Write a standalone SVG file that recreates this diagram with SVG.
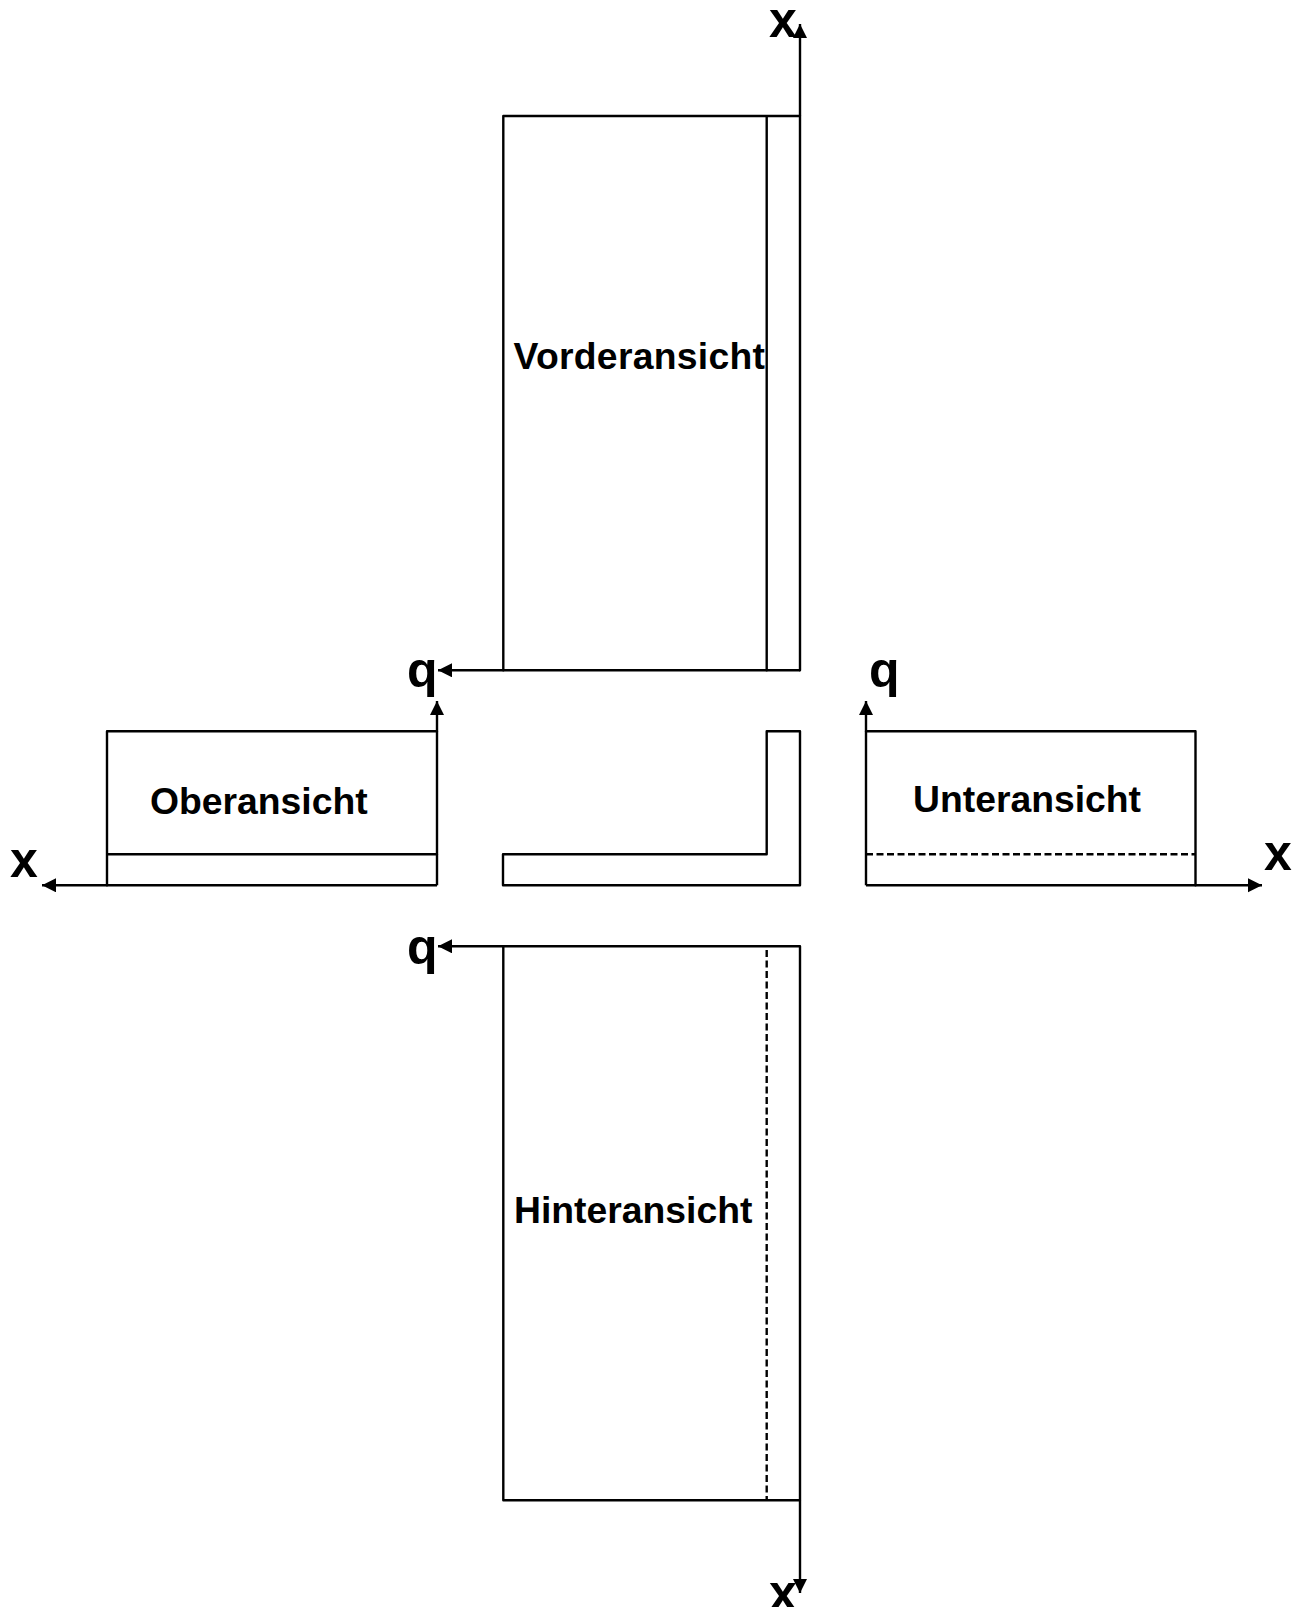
<svg xmlns="http://www.w3.org/2000/svg" width="1303" height="1607" viewBox="0 0 1303 1607">
<style>
.s{fill:none;stroke:#000;stroke-width:2.4;stroke-linejoin:round;stroke-linecap:round}
.d{stroke-dasharray:7 3.500;stroke-linecap:butt}
.a{fill:none;stroke:#000;stroke-width:2.4;marker-end:url(#ah)}
.l{font-family:"Liberation Sans",Arial,sans-serif;font-weight:700;font-size:37.3px;fill:#000}
.ax{font-family:"Liberation Sans",Arial,sans-serif;font-weight:700;font-size:50px;fill:#000}
</style>
<defs>
<marker id="ah" markerUnits="userSpaceOnUse" markerWidth="15" markerHeight="15" refX="14" refY="7" orient="auto"><path d="M0 0L14 7L0 14Z" fill="#000"/></marker>
</defs>
<rect width="1303" height="1607" fill="#fff"/>
<g id="vorderansicht">
<path class="s" d="M503.300 670.300V116H800V670.300M766.700 116V670.300"/>
<text class="l" x="513.500" y="369" textLength="251.500">Vorderansicht</text>
</g>
<g id="oberansicht">
<path class="s" d="M437 731.300H107V885.300M107 854.300H437"/>
<text class="l" x="150" y="814">Oberansicht</text>
</g>
<g id="profil">
<path class="s" d="M503 854.300H766.700V731.300H800V885.300H503Z"/>
</g>
<g id="unteransicht">
<path class="s" d="M866 731.300H1195.500V885.300"/>
<path class="s d" d="M866 854.300H1195.500"/>
<text class="l" x="913" y="812">Unteransicht</text>
</g>
<g id="hinteransicht">
<path class="s" d="M503.300 946.300V1500.300H800V946.300"/>
<path class="s d" d="M766.700 950V1500"/>
<text class="l" x="514" y="1223">Hinteransicht</text>
</g>
<g id="connectors">
<path class="a" d="M800 116V24"/>
<path class="a" d="M800 670.300H438"/>
<path class="a" d="M437 885.300V701"/>
<path class="a" d="M437 885.300H42"/>
<path class="a" d="M866 885.300V701"/>
<path class="a" d="M866 885.300H1262"/>
<path class="a" d="M800 946.300H438"/>
<path class="a" d="M800 1500.300V1593"/>
</g>
<g id="axis-labels">
<text class="ax" x="769" y="37">x</text>
<text class="ax" x="407" y="687">q</text>
<text class="ax" x="10" y="877">x</text>
<text class="ax" x="869" y="687">q</text>
<text class="ax" x="1264" y="870">x</text>
<text class="ax" x="407" y="964">q</text>
<text class="ax" x="769" y="1610">x</text>
</g>
</svg>
